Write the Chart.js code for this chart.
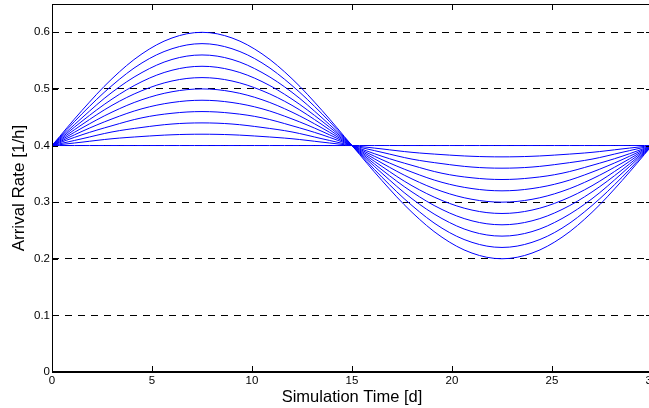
<!DOCTYPE html>
<html>
<head>
<meta charset="utf-8">
<script src="https://cdn.jsdelivr.net/npm/chart.js@4/dist/chart.umd.min.js"></script>
<style>
  body { margin: 0; overflow: hidden; background: #fff; }
  #wrap { width: 660px; height: 408px; position: relative; }
</style>
</head>
<body>
<div id="wrap"><canvas id="chart"></canvas></div>
<script>
// time samples [d]
const days = [0, 1.5, 3, 4.5, 6, 7.5, 9, 10.5, 12, 13.5, 15, 16.5, 18, 19.5, 21, 22.5, 24, 25.5, 27, 28.5, 30];

// arrival rate curves [1/h], flat one first, then growing swing
const rate00 = [0.4, 0.4, 0.4, 0.4, 0.4, 0.4, 0.4, 0.4, 0.4, 0.4, 0.4, 0.4, 0.4, 0.4, 0.4, 0.4, 0.4, 0.4, 0.4, 0.4, 0.4];
const rate02 = [0.400, 0.406, 0.412, 0.416, 0.419, 0.420, 0.419, 0.416, 0.412, 0.406, 0.400, 0.394, 0.388, 0.384, 0.381, 0.380, 0.381, 0.384, 0.388, 0.394, 0.400];
const rate04 = [0.400, 0.412, 0.424, 0.432, 0.438, 0.440, 0.438, 0.432, 0.424, 0.412, 0.400, 0.388, 0.376, 0.368, 0.362, 0.360, 0.362, 0.368, 0.376, 0.388, 0.400];
const rate06 = [0.400, 0.419, 0.435, 0.449, 0.457, 0.460, 0.457, 0.449, 0.435, 0.419, 0.400, 0.381, 0.365, 0.351, 0.343, 0.340, 0.343, 0.351, 0.365, 0.381, 0.400];
const rate08 = [0.400, 0.425, 0.447, 0.465, 0.476, 0.480, 0.476, 0.465, 0.447, 0.425, 0.400, 0.375, 0.353, 0.335, 0.324, 0.320, 0.324, 0.335, 0.353, 0.375, 0.400];
const rate10 = [0.400, 0.431, 0.459, 0.481, 0.495, 0.500, 0.495, 0.481, 0.459, 0.431, 0.400, 0.369, 0.341, 0.319, 0.305, 0.300, 0.305, 0.319, 0.341, 0.369, 0.400];
const rate12 = [0.400, 0.437, 0.471, 0.497, 0.514, 0.520, 0.514, 0.497, 0.471, 0.437, 0.400, 0.363, 0.329, 0.303, 0.286, 0.280, 0.286, 0.303, 0.329, 0.363, 0.400];
const rate14 = [0.400, 0.443, 0.482, 0.513, 0.533, 0.540, 0.533, 0.513, 0.482, 0.443, 0.400, 0.357, 0.318, 0.287, 0.267, 0.260, 0.267, 0.287, 0.318, 0.357, 0.400];
const rate16 = [0.400, 0.449, 0.494, 0.529, 0.552, 0.560, 0.552, 0.529, 0.494, 0.449, 0.400, 0.351, 0.306, 0.271, 0.248, 0.240, 0.248, 0.271, 0.306, 0.351, 0.400];
const rate18 = [0.400, 0.456, 0.506, 0.546, 0.571, 0.580, 0.571, 0.546, 0.506, 0.456, 0.400, 0.344, 0.294, 0.254, 0.229, 0.220, 0.229, 0.254, 0.294, 0.344, 0.400];
const rate20 = [0.400, 0.462, 0.518, 0.562, 0.590, 0.600, 0.590, 0.562, 0.518, 0.462, 0.400, 0.338, 0.282, 0.238, 0.210, 0.200, 0.210, 0.238, 0.282, 0.338, 0.400];

const xTicks = [0, 5, 10, 15, 20, 25, 30];
const yTicks = [0, 0.1, 0.2, 0.3, 0.4, 0.5, 0.6];

const curves = [rate00, rate02, rate04, rate06, rate08, rate10, rate12, rate14, rate16, rate18, rate20];

const FONT = '"Liberation Sans", Arial, Helvetica, sans-serif';

// matlab-like box with inward ticks
const boxTicks = {
    id: 'boxTicks',
    afterDraw(chart) {
        const ctx = chart.ctx;
        const a = chart.chartArea;
        const xs = chart.scales.x, ys = chart.scales.y;
        ctx.save();
        ctx.strokeStyle = '#000';
        ctx.lineWidth = 1;
        ctx.beginPath();
        ctx.rect(Math.round(a.left) + 0.5, Math.round(a.top) + 0.5,
                 Math.round(a.right - a.left), Math.round(a.bottom - a.top));
        xTicks.forEach(v => {
            const px = Math.round(xs.getPixelForValue(v)) + 0.5;
            ctx.moveTo(px, a.bottom); ctx.lineTo(px, a.bottom - 6);
            ctx.moveTo(px, a.top); ctx.lineTo(px, a.top + 6);
        });
        yTicks.forEach(v => {
            const py = Math.round(ys.getPixelForValue(v)) + 0.5;
            ctx.moveTo(a.left, py); ctx.lineTo(a.left + 6, py);
            ctx.moveTo(a.right, py); ctx.lineTo(a.right - 6, py);
        });
        ctx.stroke();
        // bottom axis a bit heavier
        ctx.lineWidth = 2;
        ctx.beginPath();
        ctx.moveTo(a.left, Math.round(a.bottom));
        ctx.lineTo(a.right, Math.round(a.bottom));
        ctx.stroke();
        ctx.restore();
    }
};

const ctx = document.getElementById('chart').getContext('2d');
new Chart(ctx, {
    type: 'line',
    data: {
        datasets: curves.map(c => ({
            data: c.map((v, i) => ({ x: days[i], y: v })),
            borderColor: '#0000ff',
            borderWidth: 1,
            pointRadius: 0,
            tension: 0.35,
            fill: false
        }))
    },
    options: {
        responsive: true,
        maintainAspectRatio: false,
        animation: false,
        layout: { padding: { top: 4, right: 8, left: 0, bottom: 0 } },
        plugins: {
            legend: { display: false },
            tooltip: { enabled: false }
        },
        scales: {
            x: {
                type: 'linear',
                min: 0,
                max: 30,
                afterBuildTicks: s => { s.ticks = xTicks.map(v => ({ value: v })); },
                afterFit: s => { s.height = 36; s.paddingLeft = 0; s.paddingRight = 0; },
                grid: { display: false, drawTicks: false },
                border: { display: false },
                ticks: { color: '#000', padding: 2, font: { family: FONT, size: 11.5 } },
                title: {
                    display: true,
                    text: 'Simulation Time [d]',
                    color: '#000',
                    padding: { top: 0, bottom: 1 },
                    font: { family: FONT, size: 16.5 }
                }
            },
            y: {
                min: 0,
                max: 0.65,
                afterBuildTicks: s => { s.ticks = yTicks.map(v => ({ value: v })); },
                afterFit: s => { s.width = 52; s.paddingTop = 0; s.paddingBottom = 0; },
                grid: {
                    drawTicks: false,
                    color: c => (c.tick && c.tick.value === 0) ? 'rgba(0,0,0,0)' : '#000',
                    lineWidth: 1
                },
                border: { display: false, dash: [7, 6] },
                ticks: {
                    color: '#000',
                    padding: 2,
                    font: { family: FONT, size: 11.5 },
                    callback: v => String(Math.round(v * 10) / 10)
                },
                title: {
                    display: true,
                    text: 'Arrival Rate [1/h]',
                    color: '#000',
                    padding: { top: 9, bottom: 0 },
                    font: { family: FONT, size: 17 }
                }
            }
        }
    },
    plugins: [boxTicks]
});
</script>
</body>
</html>
